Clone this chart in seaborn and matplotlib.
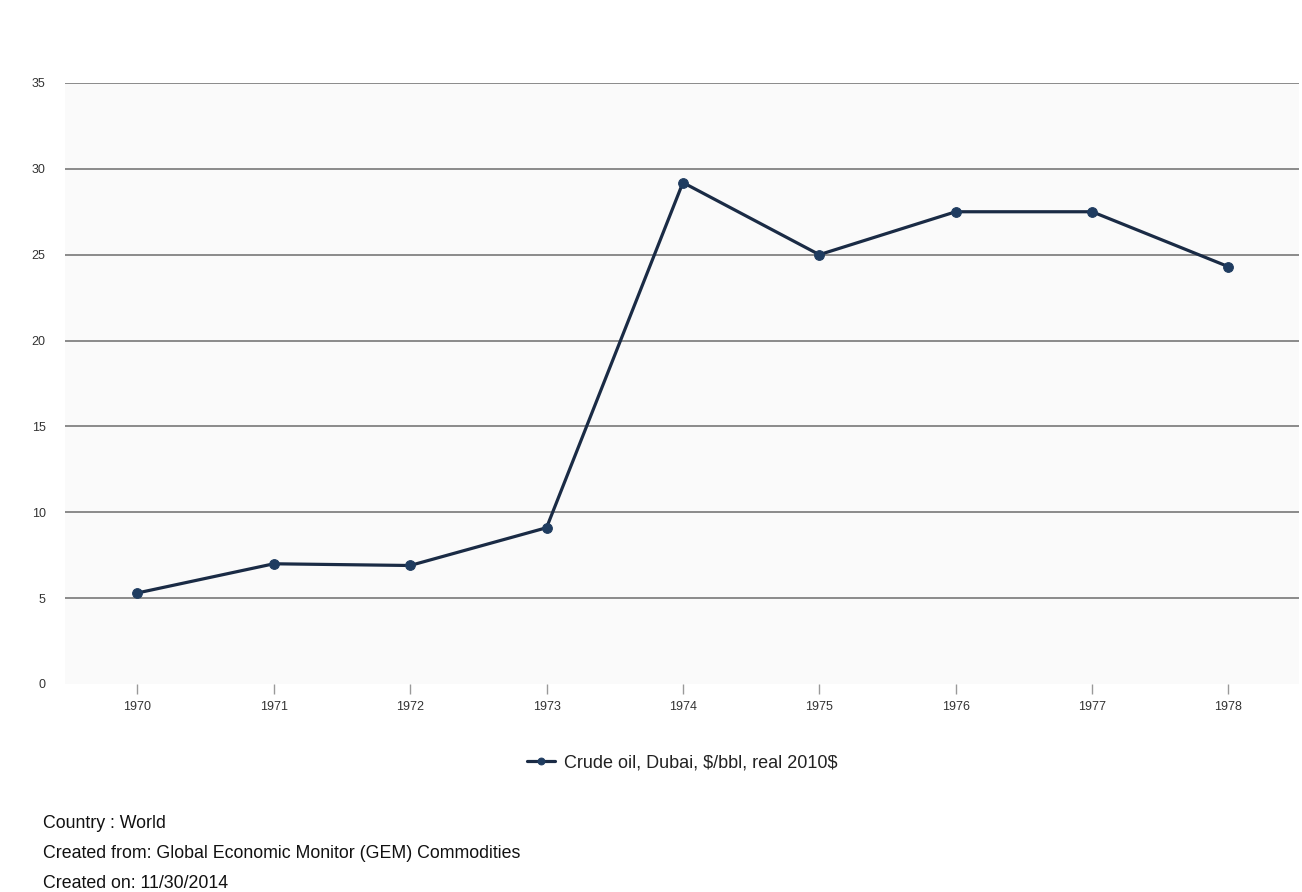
import matplotlib
matplotlib.use("Agg")
import matplotlib.pyplot as plt
import seaborn as sns
import pandas as pd

# Annual crude oil price series
years = [1970, 1971, 1972, 1973, 1974, 1975, 1976, 1977, 1978]
prices = [5.3, 7.0, 6.9, 9.1, 29.2, 25.0, 27.5, 27.5, 24.3]
series_name = "Crude oil, Dubai, $/bbl, real 2010$"
y_ticks = [0, 5, 10, 15, 20, 25, 30, 35]
footer_lines = [
    "Country : World",
    "Created from: Global Economic Monitor (GEM) Commodities",
    "Created on: 11/30/2014",
]

df = pd.DataFrame({"year": years, "price": prices, "series": series_name})

sns.set_style("white")
plt.rcParams["font.family"] = ["Liberation Sans", "DejaVu Sans"]

fig = plt.figure(figsize=(13.02, 8.92), dpi=100)
fig.patch.set_facecolor("white")
ax = fig.add_axes([0.05, 0.2332, 0.948, 0.6738])
ax.set_facecolor("#fafafa")

line_color = "#1a2b45"
sns.lineplot(data=df, x="year", y="price", hue="series", palette=[line_color],
             marker="o", markersize=7, linewidth=2.3, markeredgecolor="#1f3c60",
             markerfacecolor="#1f3c60", ax=ax, clip_on=False, zorder=3)

ax.set_xlim(1969.47, 1978.52)
ax.set_ylim(0, 35)
ax.set_yticks(y_ticks)
ax.set_xticks(years)
ax.set_xticklabels([str(y) for y in years])

# Horizontal gridlines (none at zero)
for v in y_ticks[1:]:
    ax.axhline(v, color="#8a8a8a", linewidth=1.4, zorder=1)

for s in ax.spines.values():
    s.set_visible(False)

ax.tick_params(axis="y", left=False, length=0, pad=14, labelsize=9,
               labelcolor="#333333")
ax.tick_params(axis="x", bottom=True, length=7, width=1, color="#999999",
               direction="out", pad=5, labelsize=9, labelcolor="#333333")
ax.set_xlabel("")
ax.set_ylabel("")

leg = ax.legend(loc="upper center", bbox_to_anchor=(0.5, -0.09), frameon=False,
                fontsize=13, handlelength=1.5, handletextpad=0.5, markerscale=0.7)
for t in leg.get_texts():
    t.set_parse_math(False)
    t.set_color("#222222")

for i, txt in enumerate(footer_lines):
    fig.text(43 / 1302, 1 - (823 + 30 * i) / 892, txt, fontsize=12.8,
             color="#111111", va="center", ha="left")

fig.savefig("out.png", dpi=100, facecolor="white")
